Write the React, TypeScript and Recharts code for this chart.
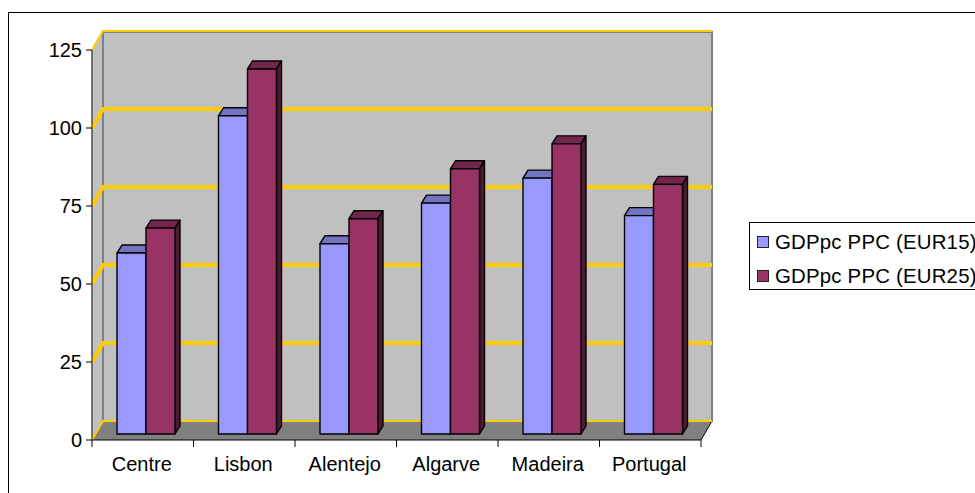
import React from 'react';
import { BarChart, Bar, XAxis, YAxis, CartesianGrid, Legend } from 'recharts';

const regions = ['Centre', 'Lisbon', 'Alentejo', 'Algarve', 'Madeira', 'Portugal'];
const eur15 = [58, 102, 61, 74, 82, 70];
const eur25 = [66, 117, 69, 85, 93, 80];
const yTicks = [0, 25, 50, 75, 100, 125];

const chartData = regions.map((region, i) => ({ region, eur15: eur15[i], eur25: eur25[i] }));

const FONT = '"Liberation Sans", Arial, sans-serif';
const DEPTH_X = 11;
const DEPTH_Y = 19;
const BAR_SHIFT_X = 3;
const BAR_SHIFT_Y = -6;
const BAR_DX = 5;
const BAR_DY = 8;

const colors = {
  eur15: { front: '#9999ff', top: '#7373bf', side: '#4d4d80' },
  eur25: { front: '#993366', top: '#73264d', side: '#4d1a33' },
};

// side wall, back wall and floor of the 3d box, drawn under the first grid line
const Walls = ({ x, y, width, height }: any) => {
  const r = x + width;
  const b = y + height;
  return (
    <g>
      <polygon points={`${x},${y} ${x + DEPTH_X},${y - DEPTH_Y} ${x + DEPTH_X},${b - DEPTH_Y} ${x},${b}`} fill="#c0c0c0" stroke="#808080" />
      <rect x={x + DEPTH_X} y={y - DEPTH_Y + 1} width={width} height={height - 1} fill="#c0c0c0" stroke="#808080" strokeWidth={2} />
      <polygon points={`${x},${b} ${r},${b} ${r + DEPTH_X},${b - DEPTH_Y} ${x + DEPTH_X},${b - DEPTH_Y}`} fill="#808080" />
      <line x1={r} y1={b} x2={r + DEPTH_X} y2={b - DEPTH_Y} stroke="#000" />
    </g>
  );
};

const GridLine = (props: any) => {
  const { x1, x2, y1, index, x, y, width, height } = props;
  const edge = y1 <= y + 1 || y1 >= y + height - 1;
  return (
    <g>
      {index === 0 && <Walls x={x} y={y} width={width} height={height} />}
      <polyline
        points={`${x1},${y1} ${x1 + DEPTH_X},${y1 - DEPTH_Y} ${x2 + DEPTH_X},${y1 - DEPTH_Y}`}
        fill="none"
        stroke="#ffcc00"
        strokeWidth={edge ? 2 : 4}
      />
    </g>
  );
};

const Bar3D = (props: any) => {
  const { x, y, width, height, palette } = props;
  const l = x + BAR_SHIFT_X;
  const t = y + BAR_SHIFT_Y;
  const r = l + width;
  const b = t + height;
  return (
    <g stroke="#000" strokeWidth={1.4} strokeLinejoin="round">
      <polygon points={`${l},${t} ${l + BAR_DX},${t - BAR_DY} ${r + BAR_DX},${t - BAR_DY} ${r},${t}`} fill={palette.top} />
      <polygon points={`${r},${t} ${r + BAR_DX},${t - BAR_DY} ${r + BAR_DX},${b - BAR_DY} ${r},${b}`} fill={palette.side} />
      <rect x={l} y={t} width={width} height={height} fill={palette.front} />
    </g>
  );
};

const CategoryTick = (props: any) => {
  const { x, payload, index } = props;
  const step = 609 / regions.length;
  return (
    <g>
      <line x1={x - step / 2} y1={440} x2={x - step / 2} y2={447} stroke="#000" />
      {index === regions.length - 1 && <line x1={x + step / 2} y1={440} x2={x + step / 2} y2={447} stroke="#000" />}
      <text x={x - 1} y={471} textAnchor="middle" fontFamily={FONT} fontSize={20} fill="#000">
        {payload.value}
      </text>
    </g>
  );
};

const LegendBox = () => (
  <div style={{ width: 240, height: 68, boxSizing: 'border-box', border: '1px solid #000', background: '#fff', fontFamily: FONT, fontSize: 20.4, letterSpacing: 0.2, padding: '2px 0 0 7px', lineHeight: '34px', whiteSpace: 'nowrap', color: '#000' }}>
    {[
      { name: 'GDPpc PPC (EUR15)', color: colors.eur15.front },
      { name: 'GDPpc PPC (EUR25)', color: colors.eur25.front },
    ].map((item) => (
      <div key={item.name} style={{ display: 'flex', alignItems: 'center' }}>
        <span style={{ width: 10, height: 10, border: '1.5px solid #222', background: item.color, marginRight: 6, flex: 'none' }} />
        {item.name}
      </div>
    ))}
  </div>
);

export default function App() {
  return (
    <div style={{ position: 'absolute', left: 0, top: 0, width: 975, height: 493, overflow: 'hidden', background: '#fff' }}>
      <div style={{ position: 'absolute', left: 8, top: 12, right: -5, bottom: -5, borderLeft: '1px solid #000', borderTop: '1px solid #000' }} />
      <BarChart
        width={975}
        height={493}
        data={chartData}
        margin={{ top: 50, right: 274, bottom: 0, left: 0 }}
        barSize={29}
        barGap={0}
        style={{ position: 'absolute', left: 0, top: 0 }}
      >
        <CartesianGrid horizontal={(p: any) => <GridLine key={p.index} {...p} />} vertical={false} horizontalValues={yTicks} />
        <XAxis dataKey="region" interval={0} tickLine={false} axisLine={{ stroke: '#000' }} tick={<CategoryTick />} height={53} />
        <YAxis
          domain={[0, 125]}
          ticks={yTicks}
          width={92}
          axisLine={{ stroke: '#333' }}
          tickLine={{ stroke: '#000' }}
          tickSize={6}
          tickMargin={4}
          tick={{ fill: '#000', fontSize: 20, fontFamily: FONT }}
          interval={0}
        />
        <Legend layout="horizontal" verticalAlign="middle" content={<LegendBox />} wrapperStyle={{ left: 749, top: 222, width: 240, height: 68, bottom: 'auto', right: 'auto' }} />
        <Bar dataKey="eur15" name="GDPpc PPC (EUR15)" fill={colors.eur15.front} isAnimationActive={false} shape={(p: any) => <Bar3D {...p} palette={colors.eur15} />} />
        <Bar dataKey="eur25" name="GDPpc PPC (EUR25)" fill={colors.eur25.front} isAnimationActive={false} shape={(p: any) => <Bar3D {...p} palette={colors.eur25} />} />
      </BarChart>
    </div>
  );
}
